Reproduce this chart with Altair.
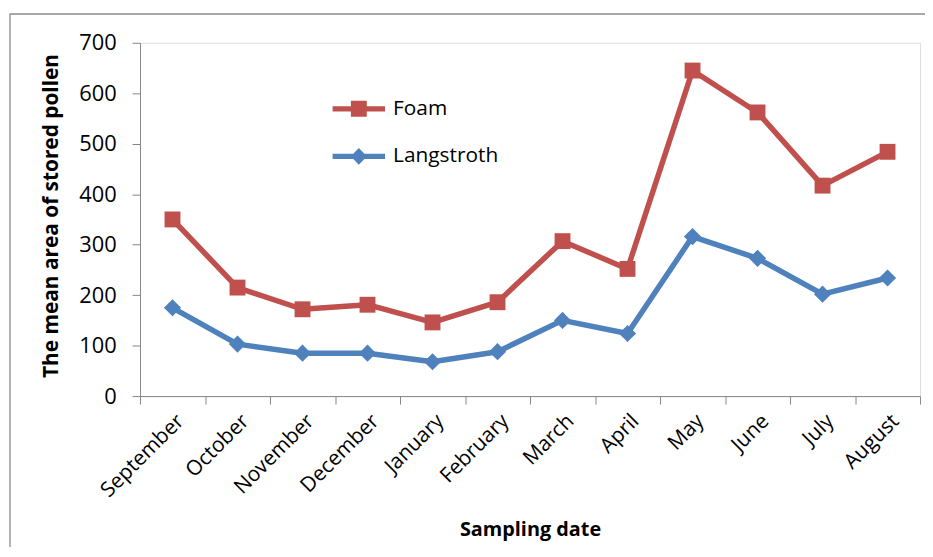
import altair as alt
import pandas as pd

months = ["September", "October", "November", "December", "January", "February",
          "March", "April", "May", "June", "July", "August"]
foam = [350, 215, 172, 181, 146, 186, 307, 252, 645, 562, 417, 484]
langstroth = [175, 103, 85, 85, 68, 88, 150, 124, 316, 273, 202, 234]
series_names = ["Foam", "Langstroth"]
series_colors = ["#C0504D", "#4F81BD"]
y_ticks = [0, 100, 200, 300, 400, 500, 600, 700]

rows = []
for m, f, l in zip(months, foam, langstroth):
    rows.append({"month": m, "series": "Foam", "value": f})
    rows.append({"month": m, "series": "Langstroth", "value": l})
df = pd.DataFrame(rows)

FONT = "Open Sans"
W, H = 786, 356

x_enc = alt.X("month:N", sort=months, scale=alt.Scale(paddingInner=0, paddingOuter=0),
              axis=alt.Axis(title="Sampling date", labelAngle=-45, labelAlign="right",
                            labelBaseline="top", labelFont=FONT, labelFontSize=21,
                            labelColor="black", labelPadding=6, tickBand="extent",
                            tickSize=8, tickColor="#868686", domainColor="#868686",
                            titleFont=FONT, titleFontSize=20, titleFontWeight="bold",
                            titleColor="black", titleY=124, titleBaseline="top",
                            titleX=W / 2, titleAnchor="middle"))
y_enc = alt.Y("value:Q", scale=alt.Scale(domain=[0, 700], nice=False),
              axis=alt.Axis(title="The mean area of stored pollen", values=y_ticks,
                            grid=False, labelFont=FONT, labelFontSize=22,
                            labelColor="black", labelPadding=16, tickSize=8,
                            tickColor="#868686", domainColor="#868686",
                            titleFont=FONT, titleFontSize=21, titleFontWeight="bold",
                            titleColor="black", titleX=-89, titleY=174,
                            titleAlign="center", titleBaseline="middle", titleAngle=-90))

base = alt.Chart(df)
layers = []
for name, col, shp, sz in zip(series_names, series_colors, ["square", "diamond"], [256, 300]):
    sub = base.transform_filter(alt.datum.series == name)
    layers.append(sub.mark_line(strokeWidth=5.5, strokeJoin="round", color=col).encode(x=x_enc, y=y_enc))
    layers.append(sub.mark_point(shape=shp, filled=True, size=sz, opacity=1, color=col).encode(x=x_enc, y=y_enc))

sq_path = "M-3.3,-0.33L-1,-0.33L-1,-1L1,-1L1,-0.33L3.3,-0.33L3.3,0.33L1,0.33L1,1L-1,1L-1,0.33L-3.3,0.33Z"
dm_path = "M-3.3,-0.33L-0.7,-0.33L0,-1.05L0.7,-0.33L3.3,-0.33L3.3,0.33L0.7,0.33L0,1.05L-0.7,0.33L-3.3,0.33Z"

legend_layer = base.transform_calculate(off="-500").mark_point(
    filled=True, opacity=1, size=256, clip=True).encode(
    x=x_enc,
    y=alt.Y("off:Q", scale=alt.Scale(domain=[0, 700], nice=False)),
    color=alt.Color("series:N", scale=alt.Scale(domain=series_names, range=series_colors),
                    legend=alt.Legend(title=None, orient="none", legendX=210, legendY=56,
                                      padding=0, labelFont=FONT, labelFontSize=21,
                                      labelColor="black", labelOffset=24, rowPadding=26,
                                      symbolStrokeWidth=0, symbolSize=256, symbolOpacity=1)),
    shape=alt.Shape("series:N", scale=alt.Scale(domain=series_names, range=[sq_path, dm_path])),
)

frame = alt.Chart(pd.DataFrame({"k": [0]})).mark_rect(
    fill=None, stroke="#8c8c8c", strokeWidth=1.3, clip=False).encode(
    x=alt.value(-131), x2=alt.value(820), y=alt.value(-29), y2=alt.value(700))

chart = alt.layer(frame, *layers, legend_layer).properties(
    width=W, height=H,
    autosize=alt.AutoSizeParams(type="none"),
    padding={"left": 133, "top": 33, "right": 5, "bottom": 150},
).configure_view(stroke=None).configure(background="white")

chart.save("out.html", embed_options={"renderer": "svg", "actions": False})
